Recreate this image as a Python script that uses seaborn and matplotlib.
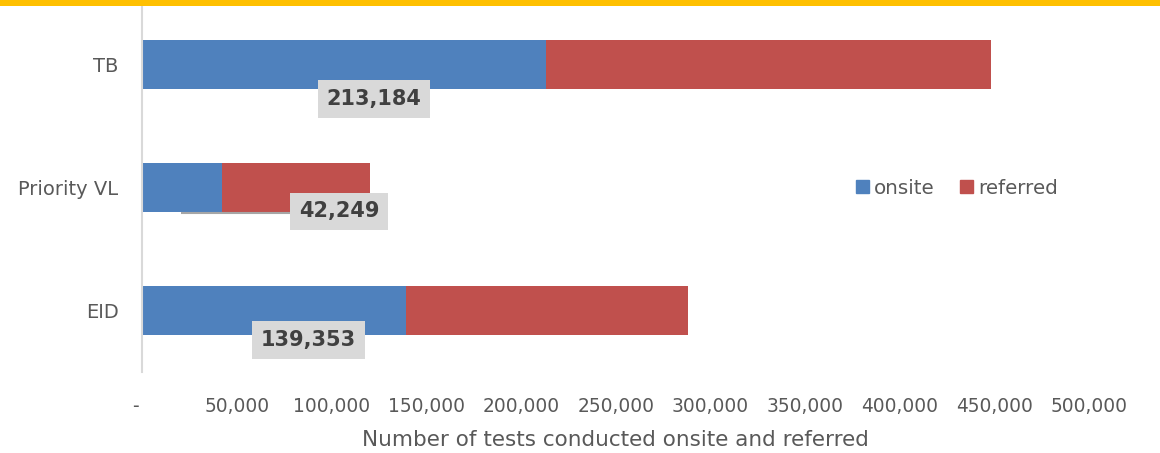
import matplotlib
matplotlib.use("Agg")
import matplotlib.pyplot as plt
import matplotlib.patches as mpatches
import matplotlib.transforms as mtransforms
import seaborn as sns
import pandas as pd

# Test categories and counts
categories = ["TB", "Priority VL", "EID"]
onsite = [213184, 42249, 139353]
referred = [234800, 78060, 148750]

x_ticks = [0, 50000, 100000, 150000, 200000, 250000, 300000, 350000, 400000, 450000, 500000]
x_tick_labels = ["-", "50,000", "100,000", "150,000", "200,000", "250,000",
                 "300,000", "350,000", "400,000", "450,000", "500,000"]
x_title = "Number of tests conducted onsite and referred"

BLUE = "#4F81BD"
RED = "#C0504D"
TEXT = "#595959"

sns.set_theme(style="white")
plt.rcParams["font.family"] = ["DejaVu Sans"]

df = pd.DataFrame({"category": categories, "onsite": onsite, "referred": referred})
df["total"] = df["onsite"] + df["referred"]

fig = plt.figure(figsize=(11.6, 4.53), dpi=100)
W, H = 1160, 453
ax = fig.add_axes([142 / W, 1 - 372 / H, (1089.5 - 142) / W, (372 - 3) / H])

# Stacked bars: full totals in red, onsite share drawn over them in blue
sns.barplot(data=df, y="category", x="total", color=RED, orient="h",
            width=0.4, saturation=1, ax=ax, linewidth=0)
sns.barplot(data=df, y="category", x="onsite", color=BLUE, orient="h",
            width=0.4, saturation=1, ax=ax, linewidth=0)

ax.set_xlim(0, 500000)
ax.set_ylim(2.5, -0.5)

# Onsite value labels in grey boxes, placed below each bar's split
label_pos = [(122400, 0.28), (104000, 0.195), (87900, 0.24)]
for i, (val, (lx, dy)) in enumerate(zip(onsite, label_pos)):
    ax.text(lx, i + dy, f"{val:,}", ha="center", va="center",
            fontsize=15, fontweight="bold", color="#404040",
            bbox=dict(boxstyle="square,pad=0.42", facecolor="#D9D9D9", edgecolor="none"),
            zorder=5)

# Short leader under the Priority VL bar
ax.plot([20500, 78000], [1.205, 1.205], color="#A6A6A6", lw=1.5, zorder=4,
        solid_capstyle="butt")

ax.set_xticks(x_ticks)
ax.set_xticklabels(x_tick_labels)
ax.tick_params(axis="x", length=0, pad=18, labelsize=13.4, labelcolor=TEXT)
ax.tick_params(axis="y", length=0, pad=17, labelsize=14, labelcolor=TEXT)
first = ax.xaxis.get_majorticklabels()[0]
first.set_transform(first.get_transform()
                    + mtransforms.ScaledTranslation(-7 / 100, 0, fig.dpi_scale_trans))

ax.set_ylabel("")
ax.set_xlabel(x_title, fontsize=15.5, color=TEXT, labelpad=10)

for side in ["top", "right", "bottom"]:
    ax.spines[side].set_visible(False)
ax.spines["left"].set_color("#D9D9D9")
ax.spines["left"].set_linewidth(1.5)
ax.grid(False)

handles = [mpatches.Patch(color=BLUE, label="onsite"),
           mpatches.Patch(color=RED, label="referred")]
fig.legend(handles=handles, loc="center left", bbox_to_anchor=(856 / W, 1 - 188 / H),
           ncol=2, frameon=False, fontsize=14.3, handlelength=0.65, handleheight=0.65,
           handletextpad=0.25, columnspacing=1.3, labelcolor=TEXT, borderaxespad=0,
           borderpad=0)

# Yellow band across the top edge
fig.add_artist(mpatches.Rectangle((0, 1 - 6 / H), 1, 6 / H, transform=fig.transFigure,
                                  facecolor="#FFC000", edgecolor="none"))

fig.savefig("out.png", dpi=100)
